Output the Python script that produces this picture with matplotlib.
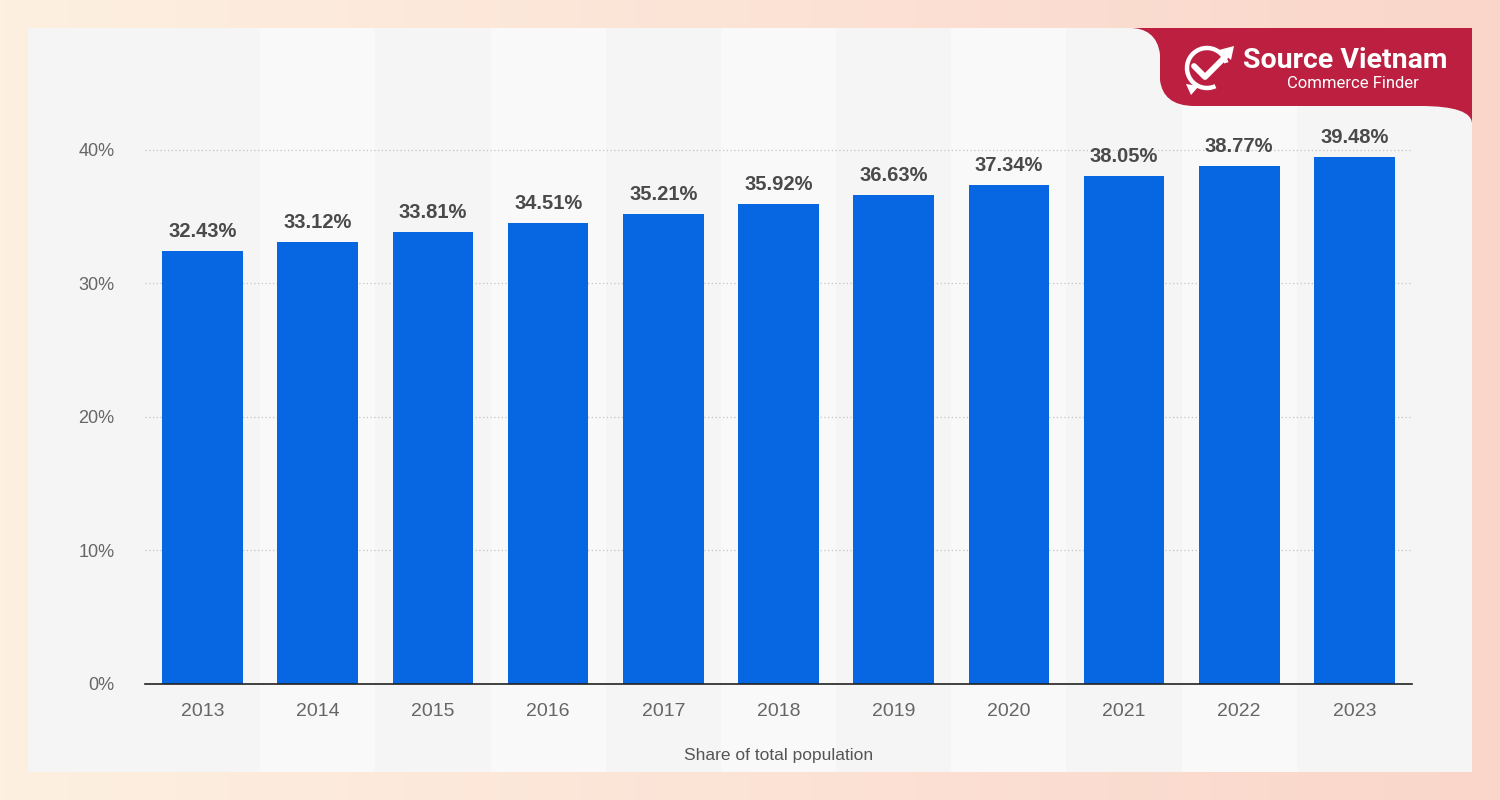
import numpy as np
import matplotlib.pyplot as plt
from matplotlib.patches import Rectangle, PathPatch, Arc, Polygon
from matplotlib.path import Path

# ── Data ───────────────────────────────────────────────────────────
years = ['2013', '2014', '2015', '2016', '2017', '2018',
         '2019', '2020', '2021', '2022', '2023']
share = [32.43, 33.12, 33.81, 34.51, 35.21, 35.92,
         36.63, 37.34, 38.05, 38.77, 39.48]
y_ticks = [0, 10, 20, 30, 40]

BAR = '#0767e2'
RED = '#bc1f3f'
PANEL = '#f5f5f5'
BAND = '#f9f9f9'

plt.rcParams['font.family'] = ['Liberation Sans', 'DejaVu Sans']

fig = plt.figure(figsize=(15, 8), dpi=100)
W, H = 1500, 800
AX_L, AX_R, AX_B, AX_T = 145, 1412, 684, 83

# ── Background gradient + panel ────────────────────────────────────
bg = fig.add_axes([0, 0, 1, 1], zorder=-10)
c1 = np.array([0xfd, 0xf0, 0xe1]) / 255
c2 = np.array([0xfa, 0xd6, 0xca]) / 255
t = np.linspace(0, 1, 300)
grad = (c1[None, :] * (1 - t[:, None]) + c2[None, :] * t[:, None])[None, :, :]
bg.imshow(grad, aspect='auto', extent=[0, W, H, 0])
bg.set_xlim(0, W)
bg.set_ylim(H, 0)
bg.axis('off')
bg.add_patch(Rectangle((28, 28), 1444, 744, facecolor=PANEL, edgecolor='none', zorder=1))

# ── Chart ──────────────────────────────────────────────────────────
ax = fig.add_axes([AX_L / W, 1 - AX_B / H, (AX_R - AX_L) / W, (AX_B - AX_T) / H])
ax.set_facecolor('none')
x = np.arange(len(years))
ax.set_xlim(-0.5, len(years) - 0.5)
ax.set_ylim(0, 45)

# alternating column bands over the full panel height
step = (AX_R - AX_L) / len(years)
for i in x:
    if i % 2 == 1:
        bg.add_patch(Rectangle((AX_L + i * step, 28), step, 744,
                               facecolor=BAND, edgecolor='none', zorder=2))

ax.bar(x, share, width=0.7, color=BAR, zorder=3)
for xi, v in zip(x, share):
    ax.text(xi, v + 0.75, f'{v:.2f}%', ha='center', va='bottom',
            fontsize=14.5, fontweight='bold', color='#4a4a4a', zorder=4)

ax.set_yticks(y_ticks)
ax.set_yticklabels([f'{v}%' for v in y_ticks])
ax.yaxis.grid(True, linestyle=(0, (1, 2)), color='#c4c4c4', linewidth=0.9)
ax.set_axisbelow(True)
ax.set_xticks(x)
ax.set_xticklabels(years)
ax.tick_params(axis='both', length=0, colors='#666666')
ax.tick_params(axis='y', labelsize=13, pad=22)
ax.tick_params(axis='x', labelsize=14, pad=14)
for s in ['top', 'right', 'left']:
    ax.spines[s].set_visible(False)
ax.spines['bottom'].set_color('#222222')
ax.spines['bottom'].set_linewidth(1.2)
ax.spines['bottom'].set_zorder(5)
ax.set_xlabel('Share of total population', fontsize=12.5, color='#555555', labelpad=20)

# ── Logo (overlay) ─────────────────────────────────────────────────
lg = fig.add_axes([0, 0, 1, 1], zorder=10)
lg.set_xlim(0, W)
lg.set_ylim(H, 0)
lg.axis('off')
lg.patch.set_alpha(0)

verts = [
    (1130, 28), (1472, 28), (1472, 124),
    (1472, 112), (1455, 106), (1420, 106),
    (1195, 106),
    (1172, 106), (1162, 96), (1160, 80),
    (1160, 55),
    (1158, 35), (1145, 28), (1130, 28),
    (1130, 28),
]
codes = [Path.MOVETO, Path.LINETO, Path.LINETO,
         Path.CURVE4, Path.CURVE4, Path.CURVE4,
         Path.LINETO,
         Path.CURVE4, Path.CURVE4, Path.CURVE4,
         Path.LINETO,
         Path.CURVE4, Path.CURVE4, Path.CURVE4,
         Path.CLOSEPOLY]
lg.add_patch(PathPatch(Path(verts, codes), facecolor=RED, edgecolor='none', zorder=5))

# icon: circle arc + check + arrow
lg.add_patch(Arc((1207, 68), 40, 40, theta1=65, theta2=345, color='white', lw=3.2, zorder=6))
lg.add_patch(Polygon([(1186, 84), (1191, 95), (1199, 86)], closed=True,
                     facecolor='white', edgecolor='none', zorder=6))
lg.plot([1194, 1205, 1228], [66, 77, 54], color='white', lw=4.2, zorder=7,
        solid_capstyle='round', solid_joinstyle='round')
lg.add_patch(Polygon([(1219, 50), (1234, 46), (1231, 60)], closed=True,
                     facecolor='white', edgecolor='none', zorder=7))

lg.text(1243, 60, 'Source Vietnam', fontsize=20.5, fontweight='bold', color='white',
        ha='left', va='center', zorder=7, family=['Roboto', 'DejaVu Sans'])
lg.text(1353, 83, 'Commerce Finder', fontsize=12, color='white',
        ha='center', va='center', zorder=7, family=['Roboto', 'DejaVu Sans'])

fig.savefig('out.png', dpi=100)
